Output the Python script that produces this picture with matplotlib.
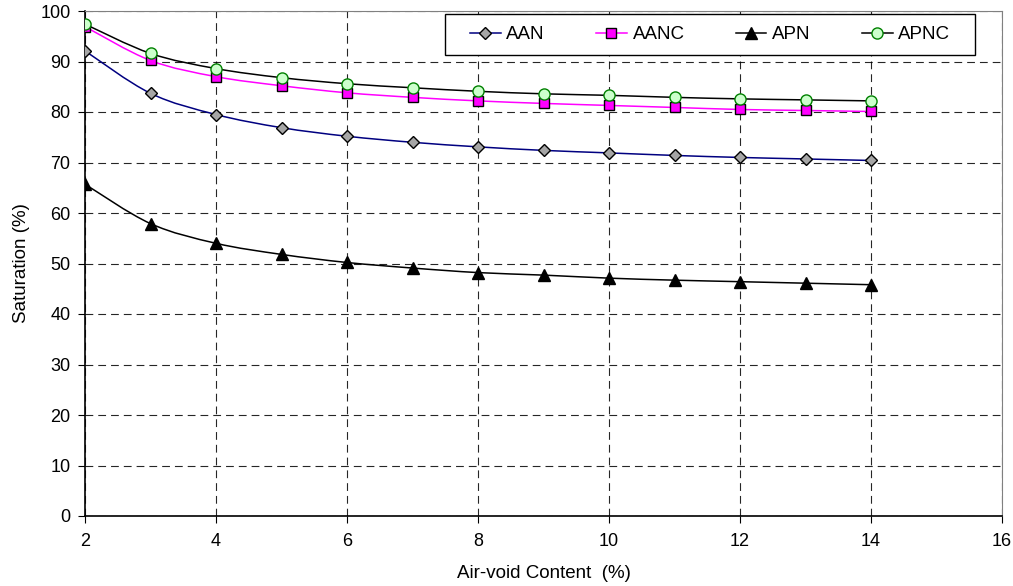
import matplotlib
matplotlib.use("Agg")
import matplotlib.pyplot as plt
from matplotlib.path import Path
from matplotlib.patches import PathPatch, Rectangle
from matplotlib.lines import Line2D
import numpy as np

plt.rcParams['font.family'] = ['Liberation Sans', 'DejaVu Sans']

air_void = [2, 3, 4, 5, 6, 7, 8, 9, 10, 11, 12, 13, 14]
aan = [92.1, 83.7, 79.5, 76.9, 75.2, 74.0, 73.1, 72.4, 71.9, 71.4, 71.0, 70.7, 70.4]
aanc = [96.9, 90.2, 87.0, 85.2, 83.8, 82.9, 82.2, 81.7, 81.3, 80.9, 80.5, 80.3, 80.1]
apn = [65.7, 57.9, 54.0, 51.8, 50.2, 49.1, 48.2, 47.7, 47.1, 46.7, 46.4, 46.1, 45.8]
apnc = [97.4, 91.6, 88.6, 86.8, 85.6, 84.8, 84.1, 83.6, 83.3, 82.9, 82.6, 82.4, 82.2]

x_ticks = [2, 4, 6, 8, 10, 12, 14, 16]
y_ticks = [0, 10, 20, 30, 40, 50, 60, 70, 80, 90, 100]

series = [
    ("AAN", aan, dict(color="#000080", marker="D", mfc="#A6A6A6", mec="black", ms=6.5)),
    ("AANC", aanc, dict(color="#FF00FF", marker="s", mfc="#FF00FF", mec="black", ms=7.5)),
    ("APN", apn, dict(color="black", marker="^", mfc="black", mec="black", ms=8)),
    ("APNC", apnc, dict(color="black", marker="o", mfc="#CCFFCC", mec="#008000", ms=8)),
]


def smooth_path(xs, ys):
    pts = np.column_stack([xs, ys]).astype(float)
    n = len(pts)
    verts = [pts[0]]
    codes = [Path.MOVETO]
    for i in range(n - 1):
        p0 = pts[i - 1] if i > 0 else pts[i]
        p1 = pts[i]
        p2 = pts[i + 1]
        p3 = pts[i + 2] if i + 2 < n else pts[i + 1]
        c1 = p1 + (p2 - p0) / 6.0
        c2 = p2 - (p3 - p1) / 6.0
        verts += [c1, c2, p2]
        codes += [Path.CURVE4] * 3
    return Path(verts, codes)


W, H = 1013, 586
fig = plt.figure(figsize=(W / 100, H / 100), dpi=100)
ax = fig.add_axes([85 / W, 1 - 516 / H, (1002 - 85) / W, (516 - 11) / H])

handles = []
for i, (name, vals, st) in enumerate(series):
    patch = PathPatch(smooth_path(air_void, vals), facecolor="none",
                      edgecolor=st["color"], lw=1.1, zorder=3 + i)
    ax.add_patch(patch)
    ax.plot(air_void, vals, ls="none", marker=st["marker"], mfc=st["mfc"],
            mec=st["mec"], ms=st["ms"], mew=1.0, zorder=10 + i)
    handles.append(Line2D([], [], color=st["color"], lw=1.1, marker=st["marker"],
                          mfc=st["mfc"], mec=st["mec"], ms=st["ms"], mew=1.0,
                          label=name))

ax.set_xlim(2, 16)
ax.set_ylim(0, 100)
ax.set_xticks(x_ticks)
ax.set_yticks(y_ticks)
ax.grid(True, color="black", linestyle=(0, (7, 4.5)), linewidth=0.8, alpha=0.85)
ax.set_axisbelow(True)
for s in ["top", "right"]:
    ax.spines[s].set_color("#808080")
for s in ["left", "bottom"]:
    ax.spines[s].set_color("black")
    ax.spines[s].set_linewidth(1.2)
ax.tick_params(direction="out", length=5, pad=5.5, labelsize=13, colors="black")
ax.tick_params(axis="x", pad=7)
ax.set_xlabel("Air-void Content  (%)", fontsize=13.5, labelpad=11)
ax.set_ylabel("Saturation (%)", fontsize=13.5, labelpad=7)

# legend frame
fig.patches.append(Rectangle((445 / W, 1 - 55 / H), 530 / W, 41 / H,
                             transform=fig.transFigure, facecolor="white",
                             edgecolor="black", lw=1.0, zorder=20))
leg = fig.legend(handles=handles, loc="center",
                 bbox_to_anchor=(710 / W, 1 - 34.5 / H), ncol=4,
                 frameon=False, fontsize=13.5,
                 handlelength=1.65, columnspacing=2.72, handletextpad=0.3,
                 borderpad=0.0, borderaxespad=0.0)
leg.set_zorder(21)

fig.savefig("out.png", dpi=100)
